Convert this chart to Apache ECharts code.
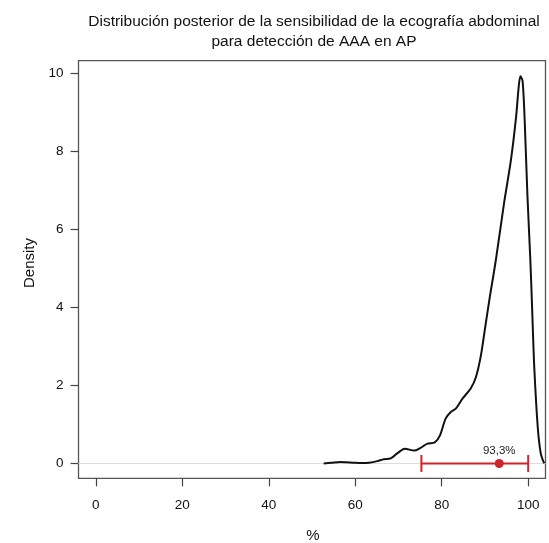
<!DOCTYPE html>
<html>
<head>
<meta charset="utf-8">
<script src="https://cdn.jsdelivr.net/npm/echarts@6/dist/echarts.min.js"></script>
<style>
html,body{margin:0;padding:0;background:#fff;}
#chart{width:549px;height:543px;}
</style>
</head>
<body>
<div id="chart"></div>
<script>
// Posterior density curve (x in %, density)
const densX = [52.7, 54.5, 56.6, 58.0, 59.5, 61.5, 63.2, 65.1, 66.6, 68.2, 69.7, 71.5, 73.6, 75.1, 76.7, 78.4, 79.6, 80.9, 82.1, 83.3, 84.8, 86.7, 87.9, 89.0, 90.0, 91.0, 92.5, 94.4, 96.0, 97.2, 97.8, 98.2, 98.7, 99.2, 99.8, 100.5, 100.9, 101.4, 102.2, 102.9, 103.7];
const densY = [0.00, 0.02, 0.04, 0.03, 0.02, 0.01, 0.02, 0.06, 0.11, 0.13, 0.26, 0.38, 0.33, 0.40, 0.51, 0.54, 0.72, 1.15, 1.32, 1.41, 1.66, 1.92, 2.21, 2.73, 3.45, 4.18, 5.20, 6.66, 7.77, 8.88, 9.65, 9.92, 9.80, 8.75, 6.92, 5.20, 4.00, 2.47, 0.94, 0.26, 0.00];
// Credible interval and point estimate
const ciLow = 75.3;
const ciHigh = 100;
const pointEst = 93.3;
const pointLabel = '93,3%';
// Tick labels
const xTicks = [0, 20, 40, 60, 80, 100];
const yTicks = [0, 2, 4, 6, 8, 10];
const titleText = 'Distribución posterior de la sensibilidad de la ecografía abdominal\npara detección de AAA en AP';
const xName = '%';
const yName = 'Density';

const curve = densX.map((x, i) => [x, densY[i]]);
const red = '#d1232a';
const font = 'Liberation Sans, Arial, Helvetica, sans-serif';

const chart = echarts.init(document.getElementById('chart'), null, {renderer: 'canvas'});
chart.setOption({
  animation: false,
  backgroundColor: '#fff',
  title: {
    text: titleText,
    left: 309, top: 7, textAlign: 'center',
    textStyle: {fontFamily: font, fontSize: 15.5, fontWeight: 'normal', color: '#111', lineHeight: 20}
  },
  grid: {
    left: 78.5, right: 3.5, top: 60.7, bottom: 64.7,
    show: true, borderColor: '#555', borderWidth: 1.3, backgroundColor: 'transparent'
  },
  xAxis: {
    type: 'value', min: -4, max: 104,
    axisLine: {show: false, onZero: false},
    splitLine: {show: false},
    axisTick: {show: true, inside: false, length: 8, customValues: xTicks, lineStyle: {color: '#444', width: 1.2}},
    axisLabel: {customValues: xTicks, margin: 20, fontFamily: font, fontSize: 13.5, color: '#111'}
  },
  yAxis: {
    type: 'value', min: -0.38, max: 10.32,
    axisLine: {show: false, onZero: false},
    splitLine: {show: false},
    axisTick: {show: true, inside: false, length: 8, customValues: yTicks, lineStyle: {color: '#444', width: 1.2}},
    axisLabel: {customValues: yTicks, margin: 15, fontFamily: font, fontSize: 13.5, color: '#111'}
  },
  graphic: [
    {type: 'text', x: 30, y: 263, rotation: Math.PI / 2,
      style: {text: yName, font: '15px ' + font, fill: '#111', align: 'center', verticalAlign: 'middle'}},
    {type: 'text', x: 313, y: 536,
      style: {text: xName, font: '15px ' + font, fill: '#111', align: 'center', verticalAlign: 'middle'}}
  ],
  series: [
    {
      type: 'line', data: [], z: 1, silent: true,
      markLine: {
        silent: true, symbol: 'none', label: {show: false}, z: 1,
        lineStyle: {color: '#dcdcdc', width: 1, type: 'solid'},
        data: [{yAxis: 0}]
      }
    },
    {
      type: 'line', data: curve, smooth: 0.3, showSymbol: false, z: 3, silent: true,
      lineStyle: {color: '#111', width: 2}
    },
    {
      type: 'line', data: [[ciLow, 0], [ciHigh, 0]], showSymbol: false, z: 4, silent: true,
      lineStyle: {color: red, width: 2}
    },
    {
      type: 'scatter', data: [[ciLow, 0], [ciHigh, 0]], symbol: 'rect', symbolSize: [2, 17], z: 4, silent: true,
      itemStyle: {color: red, opacity: 1}
    },
    {
      type: 'scatter', data: [[pointEst, 0]], symbol: 'circle', symbolSize: 9, z: 5, silent: true,
      itemStyle: {color: red, opacity: 1},
      label: {show: true, position: 'top', distance: 2, formatter: pointLabel, fontFamily: font, fontSize: 11.5, color: '#222'}
    }
  ]
});
</script>
</body>
</html>
